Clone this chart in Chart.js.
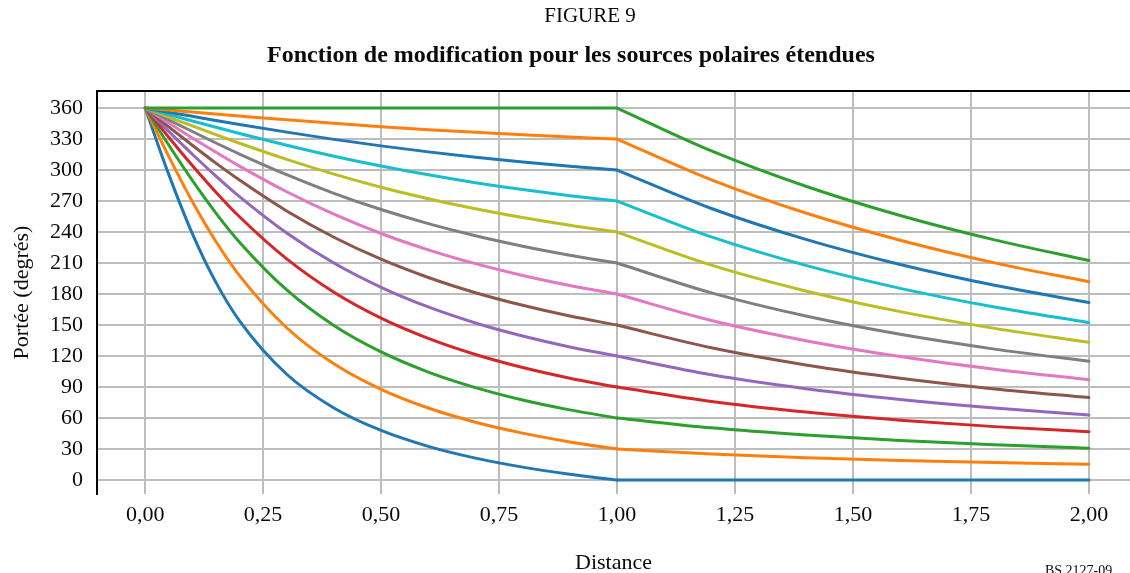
<!DOCTYPE html>
<html>
<head>
<meta charset="utf-8">
<script src="https://cdn.jsdelivr.net/npm/chart.js@4.4.1/dist/chart.umd.min.js"></script>
<style>
  html, body { margin: 0; padding: 0; background: #ffffff; }
  #wrap { width: 1130px; height: 573px; position: relative; }
</style>
</head>
<body>
<div id="wrap"><canvas id="c" width="1130" height="573"></canvas></div>
<script>
// ---- Data ----
const distances = [0, 0.05, 0.1, 0.15, 0.2, 0.3, 0.4, 0.5, 0.6, 0.7, 0.8, 0.9, 1, 1.2, 1.4, 1.6, 1.8, 2];

const ext0   = [360, 295.8, 238.5, 191.3, 154.1, 102.4, 69.8, 48.0, 32.6, 21.2, 12.5, 5.6, 0, 0, 0, 0, 0, 0];
const ext30  = [360, 313.3, 269.6, 230.9, 197.9, 147.4, 112.5, 87.8, 69.7, 56.0, 45.4, 36.9, 30, 25.2, 21.7, 19.0, 16.9, 15.3];
const ext60  = [360, 324.2, 290.0, 258.4, 230.2, 184.0, 149.6, 124.0, 104.5, 89.5, 77.5, 67.9, 60, 50.5, 43.6, 38.3, 34.2, 30.8];
const ext90  = [360, 331.8, 304.4, 278.6, 254.8, 214.0, 181.8, 156.7, 137.1, 121.5, 108.9, 98.6, 90, 76.1, 65.8, 57.9, 51.7, 46.7];
const ext120 = [360, 337.4, 315.3, 294.2, 274.3, 239.1, 210.0, 186.5, 167.5, 152.0, 139.4, 128.8, 120, 101.9, 88.4, 78.0, 69.7, 63.0];
const ext150 = [360, 341.8, 324.0, 306.7, 290.3, 260.4, 235.0, 213.7, 196.0, 181.3, 169.1, 158.7, 150, 128.0, 111.4, 98.5, 88.2, 79.8];
const ext180 = [360, 345.5, 331.1, 317.2, 303.8, 279.0, 257.3, 238.6, 222.8, 209.4, 198.0, 188.3, 180, 154.4, 134.9, 119.5, 107.2, 97.1];
const ext210 = [360, 348.6, 337.3, 326.2, 315.5, 295.5, 277.5, 261.8, 248.2, 236.4, 226.3, 217.6, 210, 181.1, 158.7, 141.0, 126.7, 114.9];
const ext240 = [360, 351.3, 342.7, 334.2, 325.9, 310.3, 296.1, 283.4, 272.3, 262.5, 254.0, 246.5, 240, 208.0, 183.0, 163.0, 146.8, 133.3];
const ext270 = [360, 353.7, 347.5, 341.4, 335.4, 324.0, 313.4, 303.9, 295.4, 287.8, 281.1, 275.2, 270, 235.3, 207.7, 185.5, 167.4, 152.3];
const ext300 = [360, 356.0, 352.0, 348.0, 344.1, 336.7, 329.7, 323.4, 317.6, 312.4, 307.8, 303.7, 300, 262.8, 232.9, 208.6, 188.5, 171.8];
const ext330 = [360, 358.0, 356.1, 354.2, 352.3, 348.6, 345.2, 342.0, 339.1, 336.5, 334.1, 331.9, 330, 290.5, 258.4, 232.1, 210.2, 191.9];
const ext360 = [360, 360, 360, 360, 360, 360, 360, 360, 360, 360, 360, 360, 360, 318.5, 284.3, 256.0, 232.4, 212.5];

const extents = [0, 30, 60, 90, 120, 150, 180, 210, 240, 270, 300, 330, 360];
const seriesValues = [ext0, ext30, ext60, ext90, ext120, ext150, ext180, ext210, ext240, ext270, ext300, ext330, ext360];

const xTickValues = [0, 0.25, 0.5, 0.75, 1, 1.25, 1.5, 1.75, 2];
const xTickLabels = ['0,00', '0,25', '0,50', '0,75', '1,00', '1,25', '1,50', '1,75', '2,00'];
const yTickValues = [0, 30, 60, 90, 120, 150, 180, 210, 240, 270, 300, 330, 360];
const yTickLabels = ['0', '30', '60', '90', '120', '150', '180', '210', '240', '270', '300', '330', '360'];

const figureLabel = 'FIGURE 9';
const figureTitle = 'Fonction de modification pour les sources polaires étendues';
const xTitle = 'Distance';
const yTitle = 'Portée (degrés)';
const figureRef = 'BS.2127-09';

// ---- Styles ----
const colors = ['#1f77b4', '#ff7f0e', '#2ca02c', '#d62728', '#9467bd', '#8c564b', '#e377c2',
                '#7f7f7f', '#bcbd22', '#17becf', '#1f77b4', '#ff7f0e', '#2ca02c'];
const FONT = "'Liberation Serif', 'Times New Roman', serif";
const TEXT = '#0a0a0a';
const GRID = '#bdbdbd';

// ---- Build datasets (each curve drawn in two pieces, split at distance 1) ----
const splitIndex = distances.indexOf(1);
const datasets = [];
seriesValues.forEach((vals, k) => {
  const pts = distances.map((d, i) => ({ x: d, y: vals[i] }));
  const common = {
    borderColor: colors[k], backgroundColor: colors[k], borderWidth: 3,
    pointRadius: 0, pointHoverRadius: 0, fill: false,
    cubicInterpolationMode: 'monotone', borderCapStyle: 'round', borderJoinStyle: 'round',
    order: 12 - k
  };
  datasets.push(Object.assign({ label: 'Étendue ' + extents[k] + '°', data: pts.slice(0, splitIndex + 1) }, common));
  datasets.push(Object.assign({ label: 'Étendue ' + extents[k] + '° (d>1)', data: pts.slice(splitIndex) }, common));
});

const framePlugin = {
  id: 'frameAndHeader',
  afterDraw(chart) {
    const ctx = chart.ctx;
    const a = chart.chartArea;
    ctx.save();
    ctx.strokeStyle = '#000000';
    ctx.lineWidth = 2;
    ctx.beginPath();
    ctx.moveTo(a.left - 1, a.top);
    ctx.lineTo(chart.width, a.top);
    ctx.stroke();

    ctx.fillStyle = TEXT;
    ctx.textAlign = 'center';
    ctx.textBaseline = 'middle';
    ctx.font = '21px ' + FONT;
    ctx.fillText(figureLabel, 590, 16);
    ctx.font = 'bold 24px ' + FONT;
    ctx.fillText(figureTitle, 571, 56);
    ctx.font = '14px ' + FONT;
    ctx.textAlign = 'left';
    ctx.textBaseline = 'top';
    ctx.fillText(figureRef, 1045, 564);
    ctx.restore();
  }
};

new Chart(document.getElementById('c'), {
  type: 'line',
  data: { datasets },
  plugins: [framePlugin],
  options: {
    responsive: false,
    animation: false,
    devicePixelRatio: 1,
    layout: { padding: { top: 91, left: 0, right: 0, bottom: 0 } },
    plugins: { legend: { display: false }, tooltip: { enabled: false }, title: { display: false } },
    scales: {
      x: {
        type: 'linear',
        min: -0.102,
        max: 2.087,
        afterBuildTicks: s => { s.ticks = xTickValues.map(v => ({ value: v })); },
        afterFit: s => { s.height = 79; },
        grid: { color: GRID, lineWidth: 2, drawTicks: false },
        border: { display: false },
        ticks: {
          padding: 8, autoSkip: false, maxRotation: 0, color: TEXT,
          font: { family: FONT, size: 22 },
          callback: v => xTickLabels[xTickValues.indexOf(v)]
        },
        title: { display: true, text: xTitle, color: TEXT, font: { family: FONT, size: 22 }, padding: { top: 0, bottom: -3 } }
      },
      y: {
        type: 'linear',
        min: -13.5,
        max: 376.5,
        afterBuildTicks: s => { s.ticks = yTickValues.map(v => ({ value: v })); },
        afterFit: s => { s.width = 97; },
        grid: { color: GRID, lineWidth: 2, drawTicks: false },
        border: { display: true, color: '#000000', width: 2 },
        ticks: {
          padding: 14, color: TEXT,
          font: { family: FONT, size: 22 },
          callback: v => yTickLabels[yTickValues.indexOf(v)]
        },
        title: { display: true, text: yTitle, color: TEXT, font: { family: FONT, size: 22 }, padding: { top: 9, bottom: 0 } }
      }
    }
  }
});
</script>
</body>
</html>
